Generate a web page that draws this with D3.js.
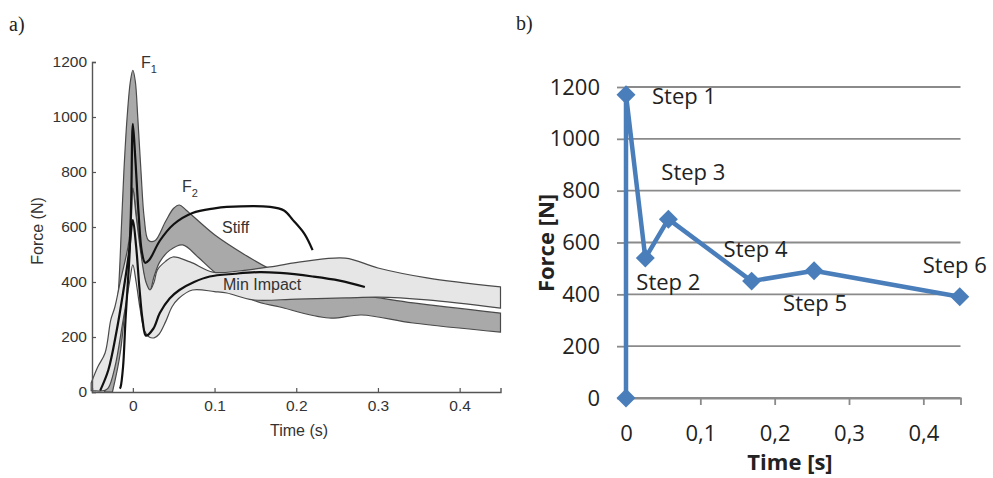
<!DOCTYPE html>
<html><head><meta charset="utf-8">
<script src="https://cdn.jsdelivr.net/npm/d3@7"></script>
<style>body{margin:0;background:#fff}svg{display:block}</style>
</head><body>
<svg id="c" width="993" height="478"></svg>
<script>
// ---------- Panel a) data ----------
const timeTicksA = [0, 0.1, 0.2, 0.3, 0.4];
const timeTickLabelsA = ["0", "0.1", "0.2", "0.3", "0.4"];
const forceTicksA = [0, 200, 400, 600, 800, 1000, 1200];
// Stiff range band (dark grey)
const stiffUpper = [[-0.035,0],[-0.03,30],[-0.022,200],[-0.017,400],[-0.014,600],[-0.011,800],[-0.007,1000],[-0.003,1130],[0,1170],[0.003,1130],[0.006,1000],[0.01,800],[0.014,630],[0.019,552],[0.027,550],[0.04,620],[0.05,668],[0.057,680],[0.065,662],[0.1,572],[0.135,503],[0.168,447],[0.2,405],[0.25,365],[0.302,342],[0.343,324],[0.45,287]];
const stiffLower = [[-0.025,0],[-0.015,150],[-0.005,500],[0,740],[0.005,620],[0.012,450],[0.02,360],[0.026,420],[0.033,473],[0.045,515],[0.061,535],[0.08,490],[0.1,436],[0.12,395],[0.147,335],[0.18,309],[0.24,269],[0.28,280],[0.343,251],[0.45,218]];
// Min Impact range band (light grey)
const minUpper = [[-0.051,33],[-0.043,91],[-0.034,142],[-0.027,262],[-0.022,309],[-0.015,407],[-0.006,527],[-0.002,625],[0,742],[0.004,640],[0.01,500],[0.016,400],[0.021,371],[0.026,400],[0.03,444],[0.04,475],[0.049,491],[0.07,473],[0.098,436],[0.13,440],[0.168,455],[0.21,475],[0.26,487],[0.3,451],[0.36,415],[0.45,382]];
const minLower = [[-0.051,5],[-0.035,5],[-0.03,15],[-0.022,90],[-0.012,260],[-0.004,400],[0,462],[0.004,400],[0.009,300],[0.014,225],[0.02,200],[0.026,197],[0.032,210],[0.04,255],[0.048,310],[0.056,340],[0.073,371],[0.1,365],[0.115,360],[0.147,335],[0.2,338],[0.26,342],[0.3,345],[0.36,335],[0.45,305]];
// Mean curves (black)
const stiffMean = [[-0.016,12],[-0.015,18],[-0.012,91],[-0.009,262],[-0.004,505],[-0.002,700],[0,975],[0.003,850],[0.007,650],[0.011,510],[0.015,470],[0.02,480],[0.033,550],[0.05,610],[0.073,651],[0.1,668],[0.115,673],[0.168,673],[0.185,660],[0.196,625],[0.21,575],[0.22,516]];
const minMean = [[-0.04,5],[-0.03,80],[-0.02,220],[-0.012,360],[-0.005,500],[0,625],[0.004,530],[0.008,380],[0.012,260],[0.016,205],[0.025,230],[0.033,287],[0.045,340],[0.057,371],[0.075,400],[0.094,420],[0.125,430],[0.155,436],[0.18,433],[0.22,420],[0.253,405],[0.284,382]];

// ---------- Panel b) data ----------
const stepTimes  = [0, 0, 0.026, 0.057, 0.169, 0.253, 0.449];
const stepForces = [0, 1170, 540, 690, 451, 491, 391];
const stepNames  = ["", "Step 1", "Step 2", "Step 3", "Step 4", "Step 5", "Step 6"];
const timeTicksB = [0, 0.1, 0.2, 0.3, 0.4];
const timeTickLabelsB = ["0", "0,1", "0,2", "0,3", "0,4"];
const forceTicksB = [0, 200, 400, 600, 800, 1000, 1200];

const svg = d3.select("#c");

// ================= Panel a =================
const fa = "'Liberation Sans', Arial, sans-serif";
const xa = d3.scaleLinear().domain([-0.05, 0.45]).range([92, 500.5]);
const ya = d3.scaleLinear().domain([0, 1200]).range([392, 62]);
const ga = svg.append("g");
const lineA = d3.line().x(d => xa(d[0])).y(d => ya(d[1])).curve(d3.curveCatmullRom.alpha(0.5));
function bandPath(up, lo) {
  return lineA(up) + lineA(lo.slice().reverse()).replace(/^M/, "L") + "Z";
}
ga.append("path").attr("d", bandPath(stiffUpper, stiffLower))
  .attr("fill", "#a9a9a9").attr("stroke", "#4a4a4a").attr("stroke-width", 1.2);
ga.append("path").attr("d", bandPath(minUpper, minLower))
  .attr("fill", "#e6e6e6").attr("stroke", "#4a4a4a").attr("stroke-width", 1.2);
ga.append("path").attr("d", lineA(stiffMean)).attr("fill", "none").attr("stroke", "#111").attr("stroke-width", 2.2);
ga.append("path").attr("d", lineA(minMean)).attr("fill", "none").attr("stroke", "#111").attr("stroke-width", 2.2);

// axes
const axA = ga.append("g").attr("transform", `translate(0,${ya(0)})`)
  .call(d3.axisBottom(xa).tickValues(timeTicksA).tickSize(-4).tickPadding(8).tickFormat((d, i) => timeTickLabelsA[i]));
const ayA = ga.append("g").attr("transform", `translate(${xa(-0.05)},0)`)
  .call(d3.axisLeft(ya).tickValues(forceTicksA).tickSize(-4).tickPadding(5).tickFormat(d => String(d)));
[axA, ayA].forEach(a => {
  a.select(".domain").attr("stroke", "#555").attr("stroke-width", 1.4);
  a.selectAll(".tick line").attr("stroke", "#555").attr("stroke-width", 1.2);
  a.selectAll("text").attr("font-family", fa).attr("font-size", 15.5).attr("fill", "#333");
});
ga.append("text").attr("x", 299).attr("y", 436).attr("text-anchor", "middle")
  .attr("font-family", fa).attr("font-size", 16).attr("fill", "#333").text("Time (s)");
ga.append("text").attr("transform", "translate(43,231) rotate(-90)").attr("text-anchor", "middle")
  .attr("font-family", fa).attr("font-size", 16).attr("fill", "#333").text("Force (N)");
function fLabel(x, y, sub) {
  const t = ga.append("text").attr("x", x).attr("y", y).attr("font-family", fa).attr("font-size", 16).attr("fill", "#333");
  t.append("tspan").text("F");
  t.append("tspan").attr("font-size", 11).attr("dy", 5).text(sub);
}
fLabel(141, 68, "1");
fLabel(182, 192, "2");
ga.append("text").attr("x", 222).attr("y", 233).attr("font-family", fa).attr("font-size", 16).attr("fill", "#333").text("Stiff");
ga.append("text").attr("x", 223).attr("y", 290).attr("font-family", fa).attr("font-size", 16).attr("fill", "#333").text("Min Impact");
svg.append("text").attr("x", 9).attr("y", 31).attr("font-family", "'Liberation Serif', 'Times New Roman', serif")
  .attr("font-size", 20).attr("fill", "#222").text("a)");

// ================= Panel b =================
const fb = "'Open Sans', sans-serif";
const xb = d3.scaleLinear().domain([0, 0.45]).range([626, 960.5]);
const yb = d3.scaleLinear().domain([0, 1200]).range([398, 87]);
const gb = svg.append("g");
// gridlines
gb.append("g").selectAll("line").data(forceTicksB).join("line")
  .attr("x1", xb(0)).attr("x2", xb(0.45)).attr("y1", d => yb(d)).attr("y2", d => yb(d))
  .attr("stroke", "#8a8a8a").attr("stroke-width", 1.8);
const ayB = gb.append("g").attr("transform", `translate(${xb(0)},0)`)
  .call(d3.axisLeft(yb).tickValues(forceTicksB).tickSize(9).tickPadding(17).tickFormat(d => String(d)));
ayB.select(".domain").remove();
ayB.selectAll(".tick line").attr("stroke", "#8a8a8a").attr("stroke-width", 1.8);
const axB = gb.append("g").attr("transform", `translate(0,${yb(0)})`)
  .call(d3.axisBottom(xb).tickValues(timeTicksB).tickSize(7).tickPadding(20)
    .tickFormat((d, i) => timeTickLabelsB[i]));
axB.select(".domain").attr("stroke", "#8a8a8a").attr("stroke-width", 1.8);
axB.selectAll(".tick line").attr("stroke", "#8a8a8a").attr("stroke-width", 1.8);
[axB, ayB].forEach(a => a.selectAll("text").attr("font-family", fb).attr("font-size", 22).attr("fill", "#222"));

const pts = stepTimes.map((t, i) => ({t, f: stepForces[i], name: stepNames[i]}));
gb.append("path").attr("d", d3.line().x(d => xb(d.t)).y(d => yb(d.f))(pts))
  .attr("fill", "none").attr("stroke", "#4a7ebb").attr("stroke-width", 4.5).attr("stroke-linejoin", "round");
gb.selectAll(".mk").data(pts).join("path").attr("class", "mk")
  .attr("transform", d => `translate(${xb(d.t)},${yb(d.f)}) rotate(45)`)
  .attr("d", d3.symbol(d3.symbolSquare, 180)).attr("fill", "#4a7ebb");
const labelOffsets = [[0,0],[26,9],[-9,32],[-7,-39],[-28,-24],[-31,40],[-37,-24]];
gb.selectAll(".lb").data(pts).join("text").attr("class", "lb")
  .attr("x", (d, i) => xb(d.t) + labelOffsets[i][0])
  .attr("y", (d, i) => yb(d.f) + labelOffsets[i][1])
  .attr("font-family", fb).attr("font-size", 22).attr("fill", "#222").text(d => d.name);
gb.append("text").attr("x", 790).attr("y", 470).attr("text-anchor", "middle")
  .attr("font-family", fb).attr("font-weight", "bold").attr("font-size", 22).attr("fill", "#222").text("Time [s]");
gb.append("text").attr("transform", "translate(554,243) rotate(-90)").attr("text-anchor", "middle")
  .attr("font-family", fb).attr("font-weight", "bold").attr("font-size", 22).attr("fill", "#222").text("Force [N]");
svg.append("text").attr("x", 516).attr("y", 30).attr("font-family", "'Liberation Serif', 'Times New Roman', serif")
  .attr("font-size", 20).attr("fill", "#222").text("b)");
</script>
</body></html>
